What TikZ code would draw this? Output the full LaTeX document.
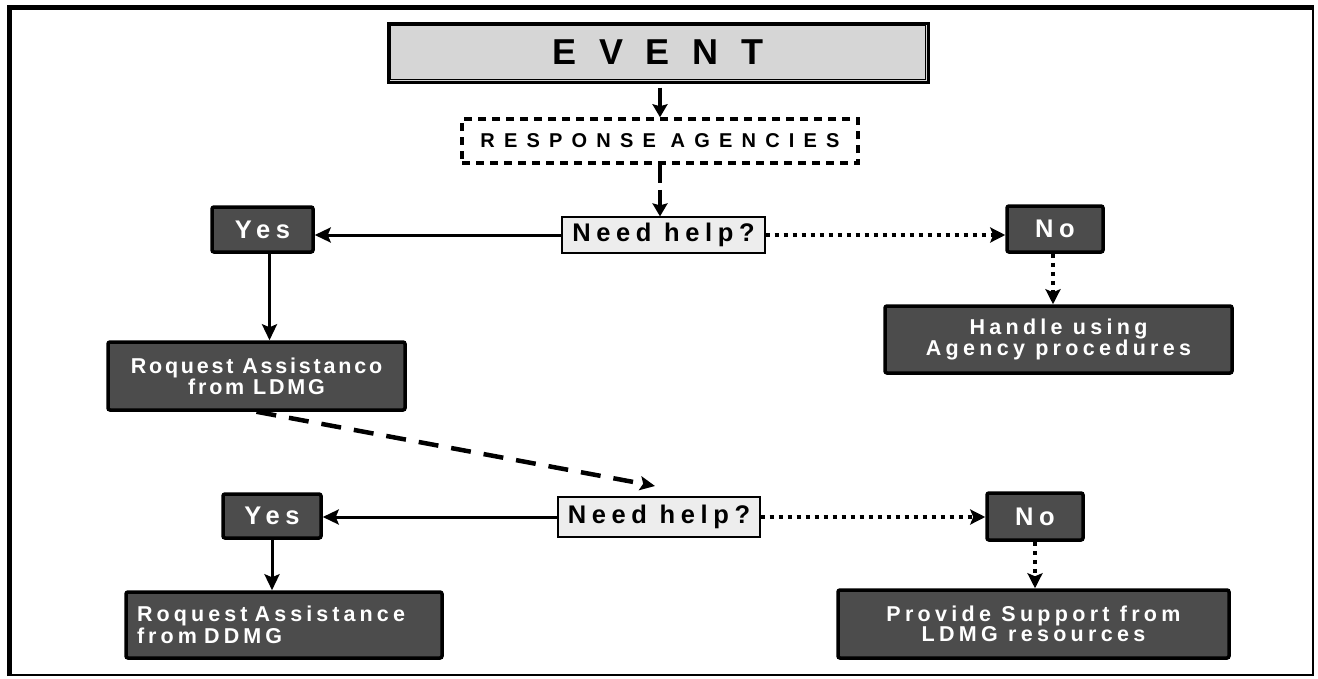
\documentclass[tikz,border=0pt]{standalone}
\usepackage{fontspec}
\setmainfont{Liberation Sans}
\usetikzlibrary{arrows.meta}
\newcommand{\darkcolor}{black!70}
\newcommand{\lightcolor}{black!7}
\newcommand{\eventcolor}{black!16}
\newcommand{\spaced}[3]{\fontsize{#2}{#3}\selectfont\addfontfeatures{LetterSpace=#1}}

\begin{document}
\begin{tikzpicture}[x=1pt,y=-1pt,
  every node/.style={inner sep=0pt, font=\bfseries},
  darkbox/.style={draw=black, line width=3.5pt, fill=\darkcolor, rounded corners=2pt,
    text=white, align=center, font=\bfseries\spaced{20}{21.5}{20}},
  answer/.style={darkbox, font=\bfseries\spaced{22}{25.5}{28}},
  askbox/.style={draw=black, line width=1.2pt, fill=\lightcolor, font=\bfseries\spaced{22}{25.5}{28}},
  yesarrow/.style={line width=3pt, -{Stealth[length=16pt,width=15pt,inset=3pt]}},
  noarrow/.style={line width=4pt, dash pattern=on 4pt off 5pt, -{Stealth[length=15pt,width=15pt,inset=3pt]}},
  bigarrow/.style={line width=4.5pt, -{Stealth[length=13pt,width=15pt,inset=2pt]}}]

\useasboundingbox (0,0) rectangle (1318,678);
\draw[line width=2pt] (9.5,675) -- (1313,675) -- (1313,7.5);
\draw[line width=5pt] (9.5,676) |- (1314,7.5);

\node[draw=black, line width=3pt, fill=\eventcolor, minimum width=540pt, minimum height=59pt,
  font=\bfseries\spaced{36}{36}{40}] (event) at (658,52.5) {E V E N T};
\draw[line width=0.8pt] ([shift={(4,4)}]event.north west) rectangle ([shift={(-4,-4)}]event.south east);

\node[draw=black, line width=3.5pt, dash pattern=on 8pt off 6pt, fill=white,
  minimum width=396pt, minimum height=44pt, font=\bfseries\spaced{46}{20}{24}]
  (agencies) at (660,141) {RESPONSE AGENCIES};

\node[askbox, minimum width=203pt, minimum height=36pt] (help1) at (663.5,235) {Need help?};
\node[answer, minimum width=101pt, minimum height=45pt] (yes1) at (262.5,229.5) {Yes};
\node[answer, minimum width=96pt, minimum height=46pt] (no1) at (1055,229) {No};
\node[darkbox, minimum width=297pt, minimum height=68pt, font=\bfseries\spaced{13}{21.5}{17}]
  (ldmg) at (256.5,376) {Roquest Assistanco\\from LDMG};
\node[darkbox, minimum width=347pt, minimum height=67pt] (handle) at (1058.5,339.5) {Handle using\\Agency procedures};

\node[askbox, minimum width=202pt, minimum height=40pt] (help2) at (659,517) {Need help?};
\node[answer, minimum width=98pt, minimum height=44pt] (yes2) at (272,516) {Yes};
\node[answer, minimum width=96pt, minimum height=47pt] (no2) at (1035,516.5) {No};
\node[darkbox, text width=294pt, inner xsep=11pt, minimum height=66pt, align=left,
  font=\bfseries\spaced{19}{21.5}{22}] (ddmg) at (284,625) {Roquest Assistance\\from DDMG};
\node[darkbox, minimum width=391pt, minimum height=68pt] (provide) at (1033.5,624) {Provide Support from\\LDMG resources};

\coordinate (tip) at (655,486);

\draw[bigarrow, shorten <=4pt] (event.south -| agencies.north) -- (agencies.north);
\draw[bigarrow, dash pattern=on 18pt off 7pt] (agencies.south) -- (agencies.south |- help1.north);
\draw[yesarrow] (help1.west) -- (help1.west -| yes1.east);
\draw[noarrow] (help1.east) -- (help1.east -| no1.west);
\draw[yesarrow] ([xshift=7pt]yes1.south) -- ([xshift=7pt]yes1.south |- ldmg.north);
\draw[noarrow] ([xshift=-2pt]no1.south) -- ([xshift=-2pt]no1.south |- handle.north);
\draw[line width=4.5pt, dash pattern=on 20pt off 13pt, -{Stealth[length=15pt,width=14pt,inset=3pt]}] (ldmg.south) -- (tip);
\draw[yesarrow] (help2.west) -- (help2.west -| yes2.east);
\draw[noarrow] (help2.east) -- (help2.east -| no2.west);
\draw[yesarrow] (yes2.south) -- (yes2.south |- ddmg.north);
\draw[noarrow] (no2.south) -- (no2.south |- provide.north);

\end{tikzpicture}
\end{document}
